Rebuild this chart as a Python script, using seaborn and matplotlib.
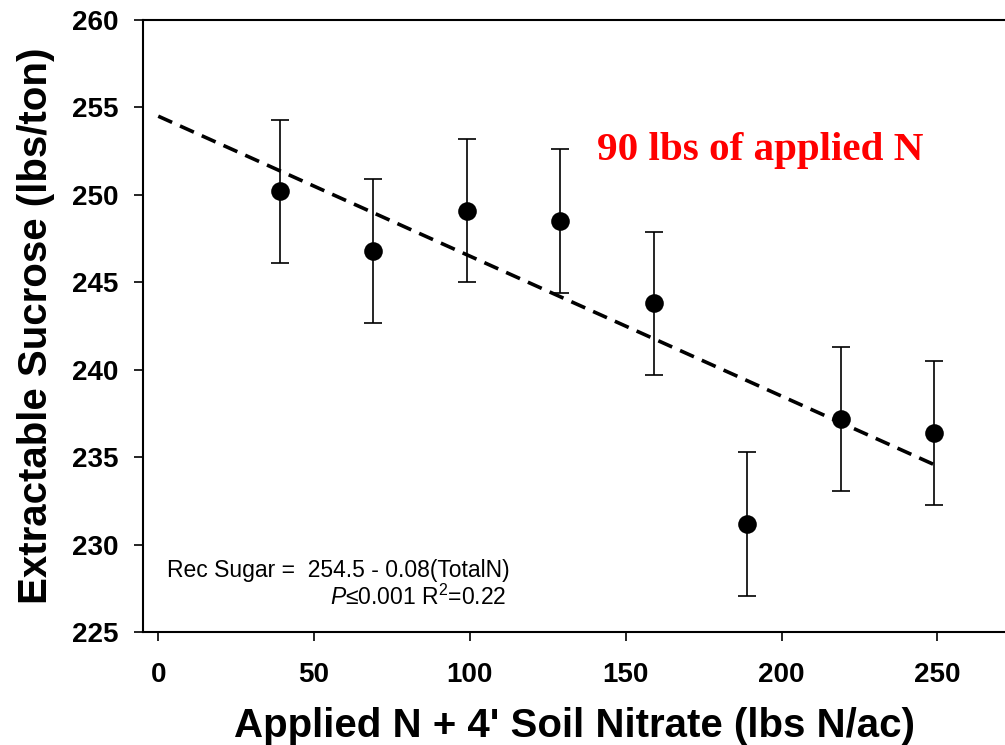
import numpy as np
import pandas as pd
import matplotlib
matplotlib.use("Agg")
import matplotlib.pyplot as plt
import seaborn as sns

# Total N (applied + 4' soil nitrate), lbs N/ac
total_n = [39, 69, 99, 129, 159, 189, 219, 249]
# Extractable sucrose, lbs/ton
sucrose = [250.2, 246.8, 249.1, 248.5, 243.8, 231.2, 237.2, 236.4]
# Standard error of each mean
sucrose_err = [4.1, 4.1, 4.1, 4.1, 4.1, 4.1, 4.1, 4.1]

# Fitted regression: Rec Sugar = 254.5 - 0.08(TotalN)
intercept = 254.5
slope = -0.08

x_ticks = [0, 50, 100, 150, 200, 250]
y_ticks = [225, 230, 235, 240, 245, 250, 255, 260]

sns.set_theme(style="ticks")
plt.rcParams["font.family"] = ["Liberation Sans", "DejaVu Sans"]
plt.rcParams["mathtext.fontset"] = "custom"
plt.rcParams["mathtext.rm"] = "Liberation Sans"
plt.rcParams["mathtext.it"] = "Liberation Sans:italic"
for key in ["text.color", "axes.labelcolor", "xtick.color", "ytick.color",
            "axes.edgecolor"]:
    plt.rcParams[key] = "black"

df = pd.DataFrame({"total_n": total_n, "sucrose": sucrose, "err": sucrose_err})
fit_x = np.array([0, max(total_n)])
fit = pd.DataFrame({"total_n": fit_x, "sucrose": intercept + slope * fit_x})

fig = plt.figure(figsize=(10.05, 7.45), dpi=100)
ax = fig.add_axes([0.1426, 0.1513, 0.8574, 0.8219])

# regression line
sns.lineplot(data=fit, x="total_n", y="sucrose", ax=ax, color="black",
             linewidth=2.6, linestyle=(0, (4.2, 2.4)), zorder=2)

# error bars and means
ax.errorbar(df["total_n"], df["sucrose"], yerr=df["err"], fmt="none",
            ecolor="black", elinewidth=1.2, capsize=6.4, capthick=1.2, zorder=3)
sns.scatterplot(data=df, x="total_n", y="sucrose", ax=ax, color="black",
                s=180, edgecolor="black", linewidth=0, zorder=4)

ax.set_xlim(-4.8, 271.7)
ax.set_ylim(225, 260)
ax.set_xticks(x_ticks)
ax.set_yticks(y_ticks)
ax.tick_params(axis="both", direction="out", length=6.3, width=1.2,
               labelsize=20, colors="black")
ax.tick_params(axis="x", pad=15)
ax.tick_params(axis="y", pad=11.5)
for lab in ax.get_xticklabels() + ax.get_yticklabels():
    lab.set_fontweight("bold")

for side in ["left", "bottom", "top"]:
    ax.spines[side].set_linewidth(1.5)
    ax.spines[side].set_color("black")
ax.spines["right"].set_visible(False)

ax.set_xlabel("Applied N + 4' Soil Nitrate (lbs N/ac)", fontsize=29,
              fontweight="bold", labelpad=14)
ax.set_ylabel("Extractable Sucrose (lbs/ton)", fontsize=29,
              fontweight="bold", labelpad=12)

ax.text(0.5265, 0.771, "90 lbs of applied N", transform=ax.transAxes,
        family=["Liberation Serif", "DejaVu Serif"], fontweight="bold",
        fontsize=29.6, color="red", ha="left", va="baseline")

ax.text(0.027, 0.0908, "Rec Sugar =  254.5 - 0.08(TotalN)",
        transform=ax.transAxes, fontsize=16.5, ha="left", va="baseline")
ax.text(0.421, 0.0446, r"$P$≤0.001 R$^2$=0.22",
        transform=ax.transAxes, fontsize=16.5, ha="right", va="baseline")

fig.savefig("out.png", dpi=100)
